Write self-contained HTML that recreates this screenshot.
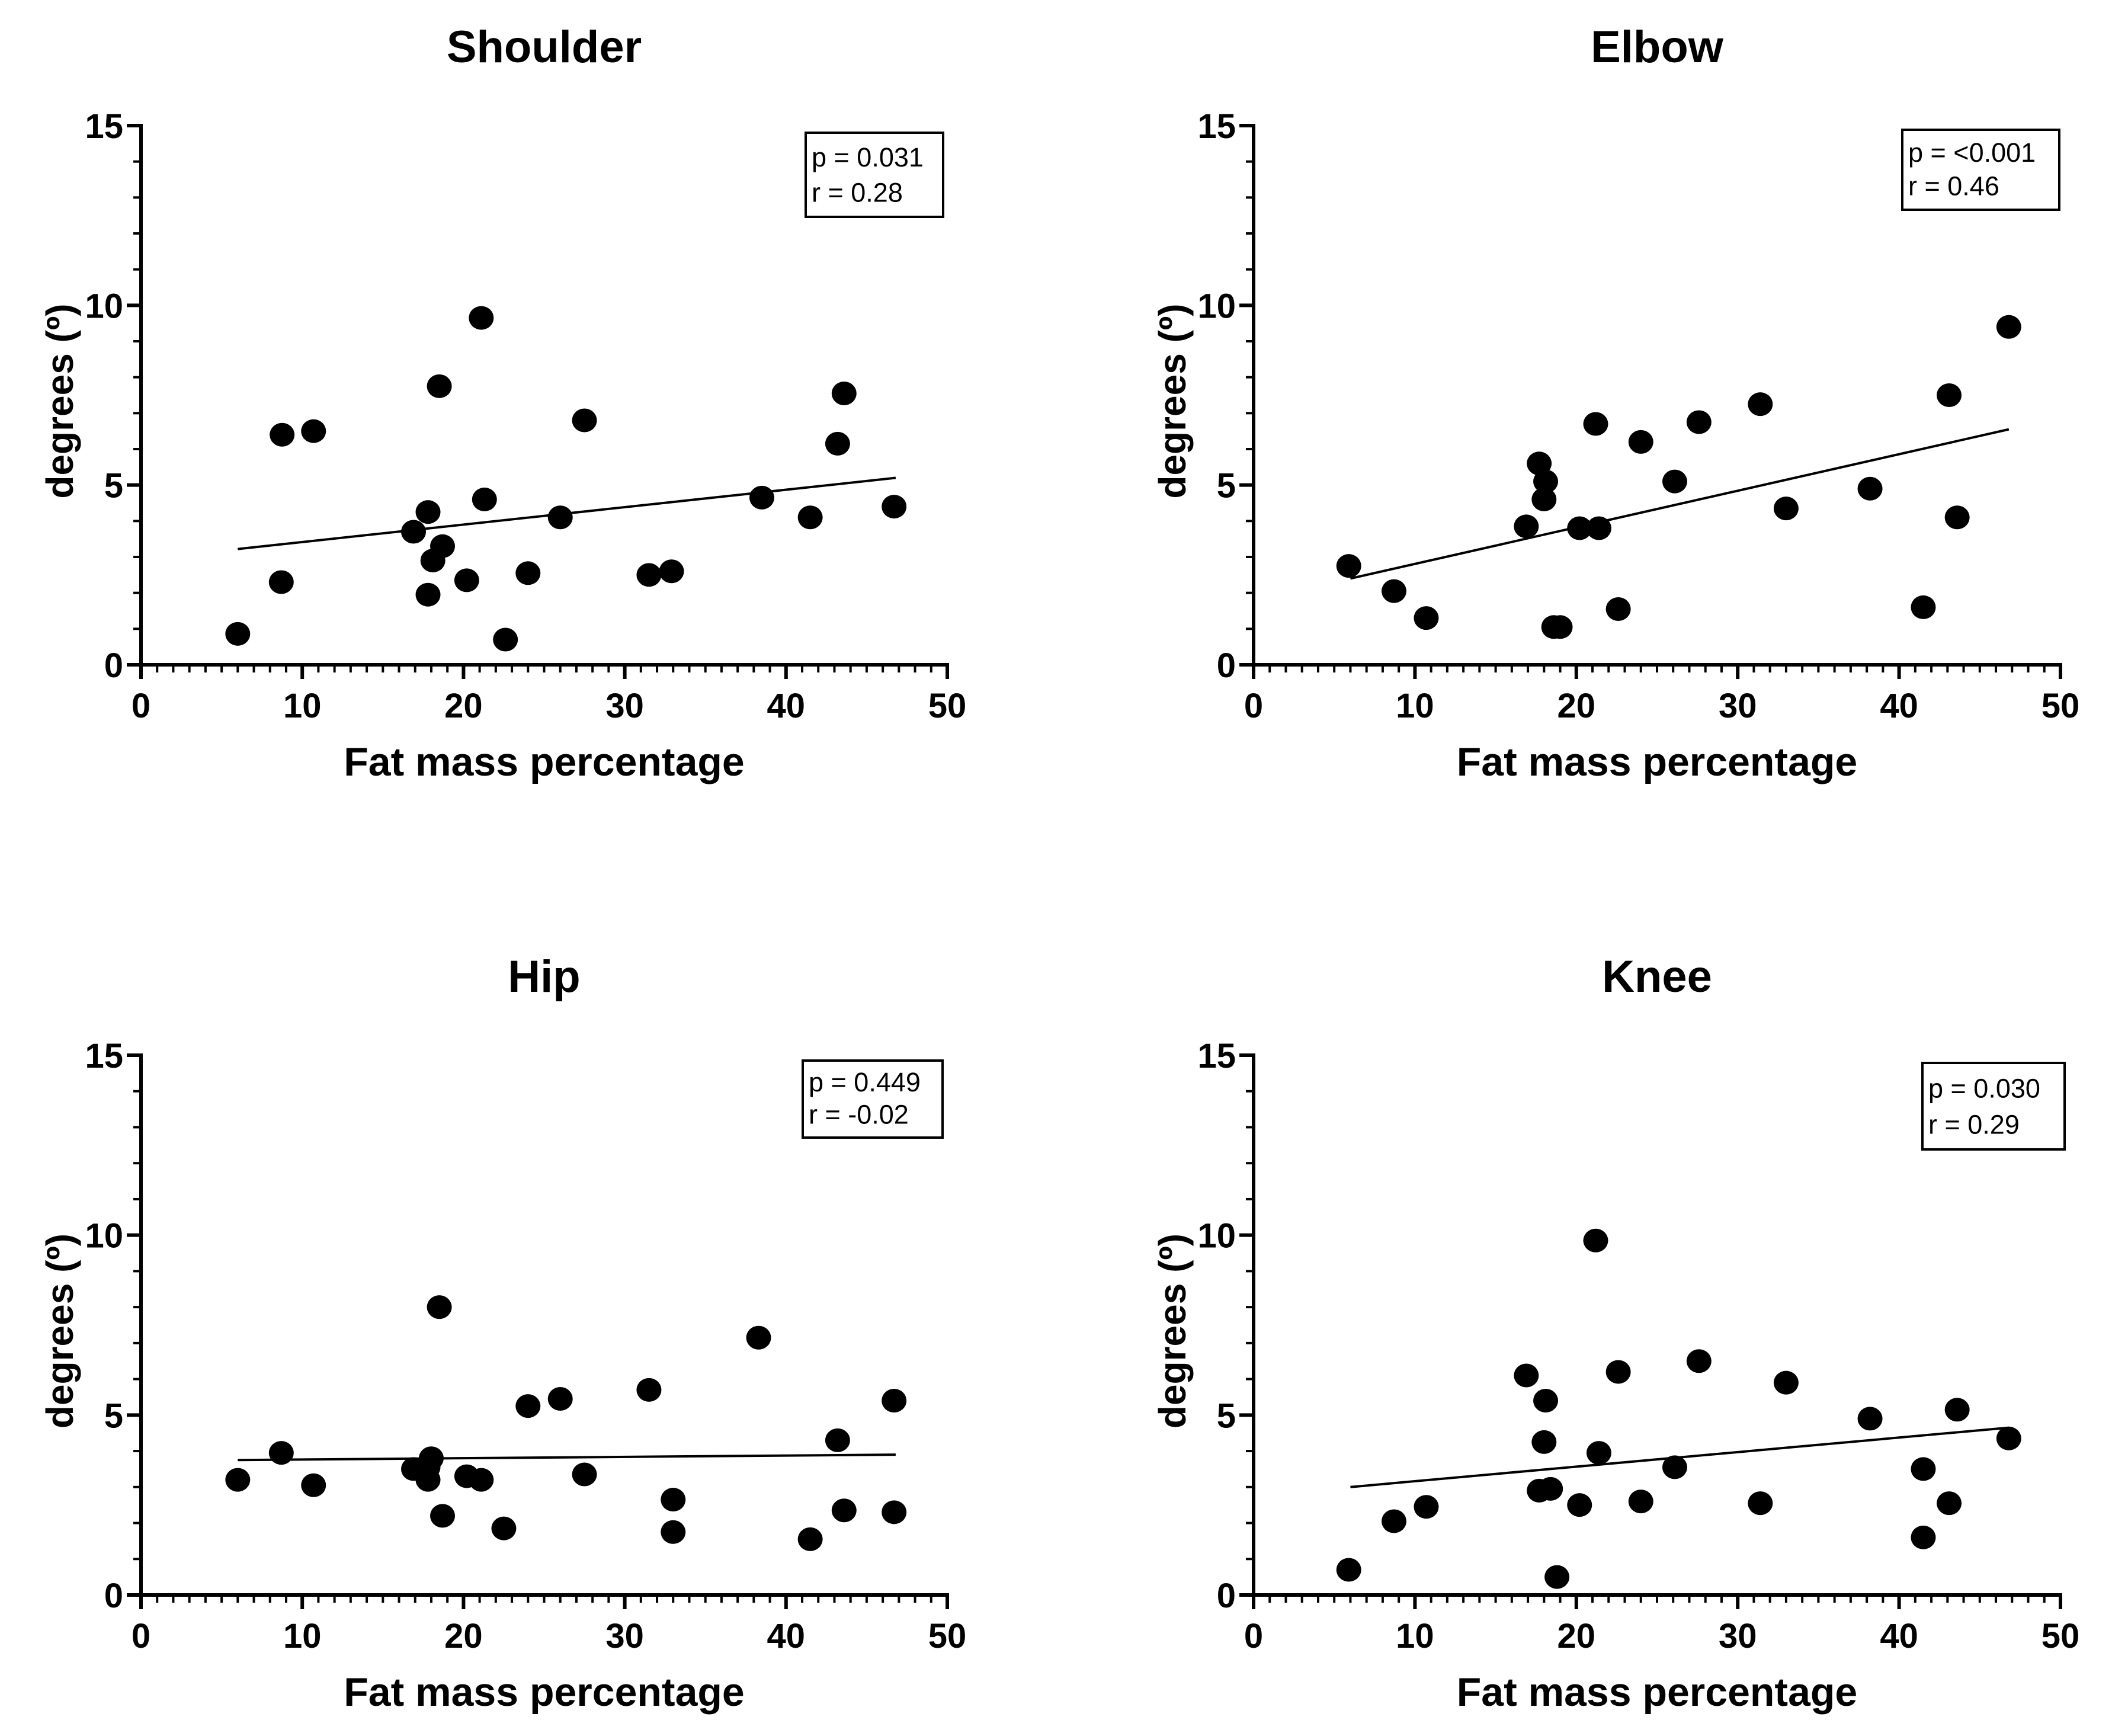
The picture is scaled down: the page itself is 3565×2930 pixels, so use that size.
<!DOCTYPE html>
<html><head><meta charset="utf-8"><style>
html,body{margin:0;padding:0;background:#fff;}
svg{display:block;font-family:"Liberation Sans",Arial,sans-serif;}
</style></head><body>
<svg id="fig" width="3565" height="2930" viewBox="0 0 3565 2930" xmlns="http://www.w3.org/2000/svg"></svg>
<script>
const xTicks=[0,10,20,30,40,50];
const yTicks=[0,5,10,15];
const titles=["Shoulder","Elbow","Hip","Knee"];
const statsP=["p = 0.031","p = <0.001","p = 0.449","p = 0.030"];
const statsR=["r = 0.28","r = 0.46","r = -0.02","r = 0.29"];
const shoulderX=[6,8.7,8.75,10.7,16.9,17.8,17.8,18.1,18.5,18.7,20.2,21.1,21.3,22.6,24,26,27.5,31.5,32.9,38.5,41.5,43.2,43.6,46.7];
const shoulderY=[0.86,2.3,6.4,6.5,3.7,4.25,1.95,2.9,7.75,3.3,2.35,9.65,4.6,0.7,2.55,4.1,6.8,2.5,2.6,4.65,4.1,6.15,7.55,4.4];
const elbowX=[5.9,8.7,10.7,16.9,17.7,18.1,18,18.6,19,20.2,21.4,21.2,22.6,24,26.1,27.6,31.4,33,38.2,41.5,43.1,43.6,46.8];
const elbowY=[2.75,2.05,1.3,3.85,5.6,5.1,4.6,1.05,1.05,3.8,3.8,6.7,1.55,6.2,5.1,6.75,7.25,4.35,4.9,1.6,7.5,4.1,9.4];
const hipX=[6,8.7,10.7,16.9,17.8,17.8,18,18.5,18.7,20.2,21.1,22.5,24,26,27.5,31.5,33,33,38.3,41.5,43.2,43.6,46.7,46.7];
const hipY=[3.2,3.95,3.05,3.5,3.2,3.55,3.8,8.0,2.2,3.3,3.2,1.85,5.25,5.45,3.35,5.7,2.65,1.75,7.15,1.55,4.3,2.35,2.3,5.4];
const kneeX=[5.9,8.7,10.7,16.9,18.1,18,17.7,18.4,18.8,21.2,21.4,20.2,22.6,24,26.1,27.6,31.4,33,38.2,41.5,41.5,43.1,43.6,46.8];
const kneeY=[0.7,2.05,2.45,6.1,5.4,4.25,2.9,2.95,0.5,9.85,3.95,2.5,6.2,2.6,3.55,6.5,2.55,5.9,4.9,3.5,1.6,2.55,5.15,4.35];
const fitX=[[6,46.8],[6,46.8],[6,46.8],[6,46.8]];
const fitY=[[3.22,5.2],[2.4,6.55],[3.75,3.9],[3.0,4.65]];
const seriesX=[shoulderX,elbowX,hipX,kneeX];
const seriesY=[shoulderY,elbowY,hipY,kneeY];

const NS="http://www.w3.org/2000/svg";
const svg=document.getElementById('fig');
function mk(tag,attrs,parent){const e=document.createElementNS(NS,tag);for(const k in attrs)e.setAttribute(k,attrs[k]);(parent||svg).appendChild(e);return e;}
const layouts=[
 {x0:238,x1:1599,y0:1122,y1:212,box:[1360,224,232,142]},
 {x0:2116,x1:3478,y0:1122,y1:212,box:[3211,219,265,135]},
 {x0:238,x1:1599,y0:2692,y1:1781,box:[1355,1790,236,130]},
 {x0:2116,x1:3478,y0:2692,y1:1781,box:[3245,1794,240,146]}
];
const slugs=["shoulder","elbow","hip","knee"];
layouts.forEach((L,i)=>{
 const g=mk('g',{});
 
 
 const sx=v=>L.x0+(L.x1-L.x0)*v/50;
 const sy=v=>L.y0+(L.y1-L.y0)*v/15;
 const cx=(L.x0+L.x1)/2;
 const t=mk('text',{x:cx,y:L.y1-107,'text-anchor':'middle','font-size':76,'font-weight':'bold'},g);t.textContent=titles[i];
 
 
 const xa=mk('line',{x1:L.x0-3,x2:L.x1+3,y1:L.y0,y2:L.y0,stroke:'#000','stroke-width':6},g);
 
 
 const ya=mk('line',{x1:L.x0,x2:L.x0,y1:L.y0+3,y2:L.y1-3,stroke:'#000','stroke-width':6},g);
 
 
 for(let v=0;v<=50;v++){const maj=v%10===0;mk('line',{x1:sx(v),x2:sx(v),y1:L.y0,y2:L.y0+(maj?24:13),stroke:'#000','stroke-width':maj?6:4},g);}
 for(let v=0;v<=15;v++){const maj=v%5===0;mk('line',{x1:L.x0,x2:L.x0-(maj?24:13),y1:sy(v),y2:sy(v),stroke:'#000','stroke-width':maj?6:4},g);}
 xTicks.forEach(v=>{const e=mk('text',{x:sx(v),y:L.y0+89,'text-anchor':'middle','font-size':58,'font-weight':'bold'},g);e.textContent=v;
  
  });
 yTicks.forEach(v=>{const e=mk('text',{x:L.x0-30,y:sy(v)+21,'text-anchor':'end','font-size':58,'font-weight':'bold'},g);e.textContent=v;
  
  });
 const xt=mk('text',{x:cx,y:L.y0+187,'text-anchor':'middle','font-size':68,'font-weight':'bold'},g);xt.textContent="Fat mass percentage";
 
 
 const ym=(L.y0+L.y1)/2+10;const yx=L.x0-115;
 const yt=mk('text',{x:yx,y:ym,'text-anchor':'middle','font-size':64,'font-weight':'bold',transform:`rotate(-90 ${yx} ${ym})`},g);yt.textContent="degrees (º)";
 
 
 const fl=mk('line',{x1:sx(fitX[i][0]),y1:sy(fitY[i][0]),x2:sx(fitX[i][1]),y2:sy(fitY[i][1]),stroke:'#000','stroke-width':4},g);
 
 
 seriesX[i].forEach((xv,j)=>{
  const c=mk('ellipse',{cx:sx(xv),cy:sy(seriesY[i][j]),rx:21,ry:20,fill:'#000'},g);
  
  
 });
 const [bx,by,bw,bh]=L.box;
 const r=mk('rect',{x:bx,y:by,width:bw,height:bh,fill:'#fff',stroke:'#000','stroke-width':4},g);
 
 
 const p=mk('text',{x:bx+10,y:by+bh*0.4,'font-size':45},g);p.textContent=statsP[i];
 
 
 const rr=mk('text',{x:bx+10,y:by+bh*0.82,'font-size':45},g);rr.textContent=statsR[i];
 
 
});
</script>
</body></html>
